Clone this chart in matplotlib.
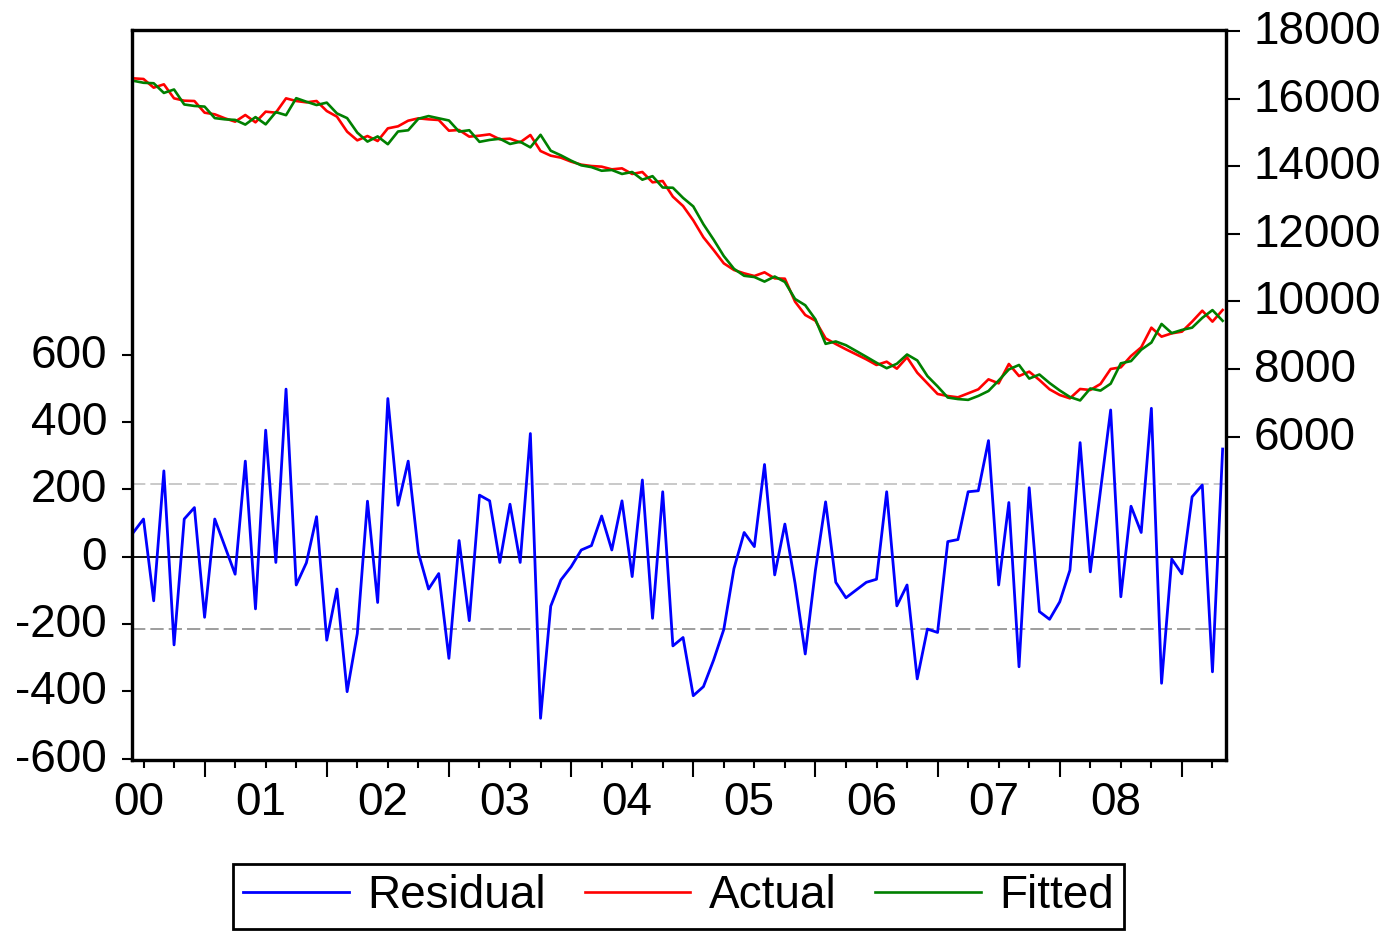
import matplotlib
matplotlib.use('Agg')
import matplotlib.pyplot as plt
import matplotlib.transforms as mtransforms
import numpy as np

plt.rcParams['font.family'] = ['Liberation Sans', 'DejaVu Sans']

# ---- data (monthly, 2000M01 .. 2008M12) ----
year_labels = ['00', '01', '02', '03', '04', '05', '06', '07', '08']

residual = [
    72, 112, -131, 255, -262, 112, 146, -180, 112, 30,
    -52, 284, -155, 376, -17, 498, -84, -18, 119, -248,
    -96, -401, -228, 165, -136, 470, 153, 284, 12, -96,
    -50, -302, 48, -190, 183, 166, -17, 156, -17, 366,
    -480, -147, -69, -30, 20, 33, 121, 20, 166, -59,
    228, -183, 193, -265, -240, -413, -386, -307, -216, -35,
    72, 30, 274, -54, 97, -79, -289, -40, 163, -76,
    -122, -99, -76, -67, 193, -146, -84, -363, -215, -225,
    45, 51, 193, 196, 345, -84, 161, -327, 205, -163,
    -186, -134, -40, 339, -45, 196, 436, -119, 150, 72,
    441, -376, -7, -51, 178, 213, -342, 320,
]

actual = [
    16603, 16584, 16327, 16426, 16011, 15942, 15932, 15587, 15538, 15419,
    15321, 15518, 15301, 15617, 15587, 16011, 15932, 15893, 15932, 15636,
    15469, 15025, 14768, 14896, 14748, 15123, 15183, 15350, 15419, 15390,
    15370, 15054, 15074, 14877, 14906, 14946, 14798, 14817, 14709, 14926,
    14452, 14314, 14255, 14137, 14048, 14008, 13989, 13910, 13939, 13772,
    13831, 13525, 13564, 13100, 12824, 12400, 11897, 11522, 11127, 10930,
    10831, 10752, 10861, 10683, 10673, 9993, 9598, 9430, 8907, 8739,
    8582, 8434, 8285, 8118, 8216, 8009, 8345, 7891, 7575, 7260,
    7200, 7161, 7279, 7398, 7694, 7575, 8148, 7792, 7921, 7674,
    7398, 7230, 7131, 7408, 7378, 7556, 8000, 8049, 8384, 8641,
    9223, 8957, 9055, 9105, 9401, 9726, 9401, 9746,
]

fitted = [
    16531, 16472, 16458, 16171, 16273, 15830, 15786, 15767, 15426, 15389,
    15373, 15234, 15456, 15241, 15604, 15513, 16016, 15911, 15813, 15884,
    15565, 15426, 14996, 14731, 14884, 14653, 15030, 15066, 15407, 15486,
    15420, 15356, 15026, 15067, 14723, 14780, 14815, 14661, 14726, 14560,
    14932, 14461, 14324, 14167, 14028, 13975, 13868, 13890, 13773, 13831,
    13603, 13708, 13371, 13365, 13064, 12813, 12283, 11829, 11343, 10965,
    10759, 10722, 10587, 10737, 10576, 10072, 9887, 9470, 8744, 8815,
    8704, 8533, 8361, 8185, 8023, 8155, 8429, 8254, 7790, 7485,
    7155, 7110, 7086, 7202, 7349, 7659, 7987, 8119, 7716, 7837,
    7584, 7364, 7171, 7069, 7423, 7360, 7564, 8168, 8234, 8569,
    8782, 9333, 9062, 9156, 9223, 9513, 9743, 9426,
]

se_band = 216
left_ticks = [-600, -400, -200, 0, 200, 400, 600]
right_ticks = [6000, 8000, 10000, 12000, 14000, 16000, 18000]

# ---- figure ----
W, H = 1391, 933
FS = 33
fig = plt.figure(figsize=(W / 100, H / 100), dpi=100)
L, R, T, B = 132, 1226, 30, 760
ax1 = fig.add_axes([L / W, 1 - B / H, (R - L) / W, (B - T) / H])
ax2 = ax1.twinx()

x = np.arange(len(residual))
ax1.axhline(0, color='black', lw=1.3, zorder=1)
ax1.axhline(se_band, color='#c0c0c0', lw=1.2, ls=(0, (8, 3)), zorder=1)
ax1.axhline(-se_band, color='#8c8c8c', lw=1.2, ls=(0, (8, 3)), zorder=1)
l_res, = ax1.plot(x, residual, color='#0000ff', lw=2.0, zorder=3)
l_act, = ax2.plot(x, actual, color='#ff0000', lw=1.9)
l_fit, = ax2.plot(x, fitted, color='#008000', lw=1.9)

ax1.set_xlim(-0.13, len(residual) - 1 + 0.33)
ax1.set_ylim(-604, 1565)
ax2.set_ylim(-3574, 18034)

ax1.set_yticks(left_ticks)
ax1.set_yticklabels([str(v) for v in left_ticks])
ax2.set_yticks(right_ticks)
ax2.set_yticklabels([str(v) for v in right_ticks])

n = len(residual)
major = list(range(7, n, 12))
minor = [p for p in range(1, n, 3) if p not in major]
ax1.set_xticks(major)
ax1.set_xticklabels([''] * len(major))
ax1.set_xticks(minor, minor=True)

for a in (ax1, ax2):
    for s in a.spines.values():
        s.set_linewidth(2.3)
        s.set_color('black')

ax1.tick_params(axis='x', which='major', direction='out', length=12, width=1.5)
ax1.tick_params(axis='x', which='minor', direction='out', length=6, width=1.5)
ax1.tick_params(axis='y', direction='out', length=7, width=1.5, labelsize=FS, pad=11)
ax2.tick_params(axis='y', direction='out', length=10, width=1.5, labelsize=FS, pad=10)

# EViews draws the value labels a few pixels above their ticks
up = mtransforms.ScaledTranslation(0, 4 / 100, fig.dpi_scale_trans)
for lab in ax1.get_yticklabels() + ax2.get_yticklabels():
    lab.set_transform(lab.get_transform() + up)

trans = mtransforms.blended_transform_factory(ax1.transData, ax1.transAxes)
for k, lab in enumerate(year_labels):
    ax1.text(0.5 + 12 * k, -43 / (B - T), lab, transform=trans,
             ha='center', va='center', fontsize=FS)

leg = fig.legend([l_res, l_act, l_fit], ['Residual', 'Actual', 'Fitted'],
                 ncol=3, loc='center', bbox_to_anchor=((232 + 1125) / 2 / W, 1 - (863 + 930) / 2 / H),
                 frameon=True, fancybox=False, edgecolor='black', framealpha=1,
                 handlelength=2.3, handletextpad=0.4, columnspacing=0.85,
                 borderpad=0.22, fontsize=FS)
leg.get_frame().set_linewidth(2.0)

fig.savefig('out.png', dpi=100)
